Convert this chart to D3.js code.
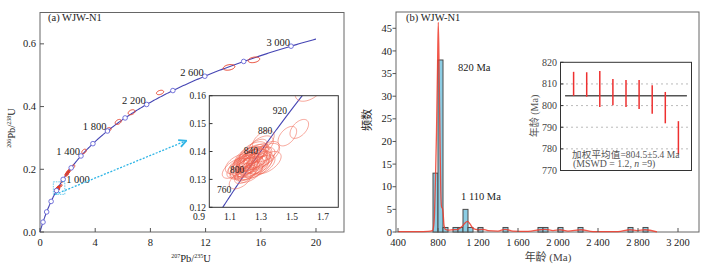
<!DOCTYPE html>
<html><head><meta charset="utf-8">
<script src="https://cdn.jsdelivr.net/npm/d3@7"></script>
<style>body{margin:0;background:#fff} text{font-family:"Liberation Serif","Noto Sans CJK SC",serif;fill:#222}</style>
</head><body><svg id="c" width="706" height="267"></svg>
<script>
// ---------------- DATA ----------------
const concordiaMarks = [200,400,600,800,1000,1200,1400,1600,1800,2000,2200,2400,2600,2800,3000];
const concordiaLabels = [1000,1400,1800,2200,2600,3000];
const insetLabels = [760,800,840,880,920];
const xTicksA = [0,4,8,12,16,20];
const yTicksA = [0,0.2,0.4,0.6];
const xTicksInset = [0.9,1.1,1.3,1.5,1.7];
const yTicksInset = [0.12,0.13,0.14,0.15,0.16];

// zircon analyses: 207Pb/235U, 206Pb/238U, 2-sigma errors, error correlation
const pb207u235 = [1.20,1.22,1.24,1.21,1.25,1.23,1.19,1.26,1.18,1.27,1.22,1.24,1.20,1.28,1.17,1.25,1.23,1.21,1.26,1.19,1.29,1.16,1.24,1.22,1.27,1.30,1.18,1.25,1.21,1.32,1.15,1.28,1.23,1.20,1.165,1.315,1.337,1.30,1.27,1.47,1.547,1.34,1.13,1.31,
  1.62,1.70,1.93,1.97,2.02,1.95,2.06,2.14,2.38,3.19,4.95,5.67,6.64,8.7,13.7,15.5];
const pb206u238 = [0.1350,0.1360,0.1365,0.1345,0.1370,0.1355,0.1340,0.1375,0.1335,0.1365,0.1372,0.1350,0.1362,0.1380,0.1350,0.1340,0.1378,0.1330,0.1355,0.1368,0.1360,0.1340,0.1385,0.1340,0.1392,0.1375,0.1358,0.1395,0.1380,0.1385,0.1355,0.1345,0.1325,0.1318,0.1298,0.1440,0.1400,0.1420,0.1410,0.1455,0.1481,0.1360,0.1340,0.1352,
  0.163,0.168,0.184,0.187,0.190,0.1855,0.192,0.197,0.208,0.257,0.326,0.351,0.382,0.445,0.525,0.549];
const err207 = [0.09,0.08,0.10,0.07,0.09,0.08,0.09,0.10,0.08,0.09,0.07,0.10,0.08,0.09,0.08,0.10,0.09,0.08,0.10,0.07,0.09,0.08,0.09,0.10,0.08,0.09,0.07,0.09,0.08,0.10,0.08,0.09,0.08,0.07,0.07,0.07,0.08,0.08,0.07,0.06,0.06,0.09,0.08,0.08,
  0.10,0.10,0.12,0.12,0.12,0.12,0.12,0.12,0.14,0.16,0.20,0.22,0.25,0.26,0.42,0.42];
const err206 = [0.0040,0.0035,0.0045,0.0035,0.0040,0.0038,0.0036,0.0042,0.0035,0.0040,0.0034,0.0044,0.0036,0.0040,0.0035,0.0042,0.0040,0.0036,0.0044,0.0034,0.0040,0.0036,0.0040,0.0042,0.0036,0.0040,0.0034,0.0040,0.0036,0.0044,0.0035,0.0040,0.0036,0.0033,0.0032,0.0035,0.0036,0.0036,0.0034,0.0035,0.0034,0.0040,0.0036,0.0036,
  0.005,0.005,0.006,0.006,0.006,0.006,0.006,0.006,0.006,0.007,0.007,0.008,0.008,0.007,0.009,0.009];
const rhoErr = [0.55,0.6,0.5,0.6,0.55,0.6,0.5,0.55,0.6,0.5,0.6,0.55,0.6,0.5,0.55,0.6,0.5,0.6,0.55,0.6,0.5,0.55,0.6,0.5,0.6,0.55,0.6,0.5,0.55,0.6,0.5,0.6,0.55,0.6,0.5,0.5,0.55,0.5,0.55,0.5,0.5,0.55,0.6,0.55,
  0.5,0.5,0.5,0.5,0.5,0.5,0.5,0.5,0.5,0.4,0.4,0.4,0.35,0.35,0.3,0.3];

// histogram
const binStart = [750,800,850,950,1000,1050,1100,1200,1450,1800,1850,2000,2200,2700,2850];
const binCount = [13,38,1,1,1,5,1,1,1,1,1,1,1,1,1];
const binWidth = 50;
const kdeAge = [400,600,700,745,755,765,775,785,795,803,811,820,828,836,845,852,860,872,900,950,1000,1040,1070,1095,1120,1150,1200,1250,1300,1400,1470,1550,1700,1820,1870,1950,2020,2100,2230,2350,2600,2720,2790,2870,2990];
const kdeVal = [0.1,0.1,0.15,0.3,1,4,12,22,36,46.3,36,20,9,5.5,5.2,4,1.5,0.6,0.4,0.5,0.6,1.2,2.0,2.35,1.8,0.8,0.5,0.6,0.3,0.2,0.6,0.2,0.15,0.5,0.6,0.3,0.5,0.2,0.5,0.1,0.1,0.5,0.3,0.5,0.05];
const xTicksH = [400,800,1200,1600,2000,2400,2800,3200];
const yTicksH = [0,5,10,15,20,25,30,35,40,45];
const peakLabels = ["820 Ma","1 110 Ma"];

// weighted mean inset
const wmIndex = [1,2,3,4,5,6,7,8,9];
const wmHigh = [815.6,815.4,816.0,812.3,811.8,811.8,809.4,806.3,792.8];
const wmLow  = [804.5,804.1,799.4,800.1,799.4,798.4,796.2,791.8,777.4];
const wmMean = 804.5;
const yTicksB = [770,780,790,800,810,820];
const gridB = [780,790,800,810];

// ---------------- DRAW ----------------
const svg = d3.select("#c");
const L238 = 1.55125e-10, L235 = 9.8485e-10;
const conc = t => [Math.exp(L235*t*1e6)-1, Math.exp(L238*t*1e6)-1];
const fmtAge = d => d >= 1000 ? d3.format(",")(d).replace(",", " ") : String(d);

// panel a scales
const xA = d3.scaleLinear([0, 22.03], [40, 344]);
const yA = d3.scaleLinear([0, 0.7], [232, 12.5]);
const xI = d3.scaleLinear([1.1, 1.7], [230, 323]);
const yI = d3.scaleLinear([0.12, 0.16], [207.3, 95.7]);

function ellPath(i, xs, ys) {
  const x = pb207u235[i], y = pb206u238[i], sx = err207[i], sy = err206[i], r = rhoErr[i];
  const pts = d3.range(0, 361, 8).map(a => {
    const t = a*Math.PI/180;
    return [xs(x + sx*Math.cos(t)), ys(y + sy*(r*Math.cos(t) + Math.sqrt(1-r*r)*Math.sin(t)))];
  });
  return d3.line()(pts) + "Z";
}

const gA = svg.append("g");
gA.append("rect").attr("x",40).attr("y",12.5).attr("width",304).attr("height",219.5)
  .attr("fill","none").attr("stroke","#666").attr("stroke-width",1);

// concordia curve
const tMax = Math.log(21)/L235/1e6;
const tSteps = d3.range(0, tMax, 10).concat([tMax]);
gA.append("path").attr("d", d3.line().x(t=>xA(conc(t)[0])).y(t=>yA(conc(t)[1]))(tSteps))
  .attr("fill","none").attr("stroke","#4646b4").attr("stroke-width",1.1);

// ellipses main
gA.append("g").selectAll("path").data(d3.range(pb207u235.length)).join("path")
  .attr("d", i => ellPath(i, xA, yA)).attr("fill","none").attr("stroke","#e8412c").attr("stroke-width",1);

// markers
gA.append("g").selectAll("circle").data(concordiaMarks).join("circle")
  .attr("cx", t=>xA(conc(t)[0])).attr("cy", t=>yA(conc(t)[1])).attr("r",2.3)
  .attr("fill","#fff").attr("stroke","#6464d6").attr("stroke-width",0.9);

// labels on concordia
gA.append("g").selectAll("text").data(concordiaLabels).join("text")
  .attr("x", t => xA(conc(t)[0]) + (t===1000 ? 3 : -1))
  .attr("y", t => yA(conc(t)[1]) + (t===1000 ? 4 : -0.5))
  .attr("text-anchor", t => t===1000 ? "start" : "end")
  .attr("font-size", 10.5).text(fmtAge);

// ticks panel a
xTicksA.forEach(v => {
  gA.append("line").attr("x1",xA(v)).attr("x2",xA(v)).attr("y1",232).attr("y2",228).attr("stroke","#555");
  gA.append("text").attr("x",xA(v)).attr("y",245.5).attr("text-anchor","middle").attr("font-size",10.5).text(v);
});
yTicksA.forEach(v => {
  gA.append("line").attr("x1",40).attr("x2",44).attr("y1",yA(v)).attr("y2",yA(v)).attr("stroke","#555");
  gA.append("text").attr("x",36).attr("y",yA(v)+3.6).attr("text-anchor","end").attr("font-size",10.5).text(d3.format(".1f")(v));
});
gA.append("text").attr("x",48).attr("y",21).attr("font-size",10.5).text("(a) WJW-N1");

// axis titles
const xt = gA.append("text").attr("x",191).attr("y",262).attr("text-anchor","middle").attr("font-size",10.5);
xt.append("tspan").attr("font-size",6).attr("dy",-4).text("207");
xt.append("tspan").attr("dy",4).text("Pb/");
xt.append("tspan").attr("font-size",6).attr("dy",-4).text("235");
xt.append("tspan").attr("dy",4).text("U");
const yt = gA.append("text").attr("transform","translate(15,128) rotate(-90)").attr("text-anchor","middle").attr("font-size",10.5);
yt.append("tspan").attr("font-size",6).attr("dy",-4).text("206");
yt.append("tspan").attr("dy",4).text("Pb/");
yt.append("tspan").attr("font-size",6).attr("dy",-4).text("238");
yt.append("tspan").attr("dy",4).text("U");

// cyan zoom box and arrow
const defs = svg.append("defs");
defs.append("marker").attr("id","arr").attr("viewBox","0 0 10 10").attr("refX",9).attr("refY",5)
  .attr("markerWidth",7).attr("markerHeight",7).attr("orient","auto")
  .append("path").attr("d","M1,1 L9,5 L1,9").attr("fill","none").attr("stroke","#2fb5e6").attr("stroke-width",2);
const bx0 = xA(xI.invert(209.3)), bx1 = xA(xI.invert(338.3)), by0 = yA(0.12), by1 = yA(0.16);
gA.append("rect").attr("x",bx0).attr("y",by1).attr("width",bx1-bx0).attr("height",by0-by1)
  .attr("fill","none").attr("stroke","#2fb5e6").attr("stroke-width",0.9).attr("stroke-opacity",0.8).attr("stroke-dasharray","1.5,1");
gA.append("line").attr("x1",bx0+2).attr("y1",by0).attr("x2",xA(10.6)).attr("y2",yA(0.291))
  .attr("stroke","#2fb5e6").attr("stroke-width",1.3).attr("stroke-dasharray","2,1.5").attr("marker-end","url(#arr)");

// inset a
const gI = svg.append("g");
defs.append("clipPath").attr("id","clipI").append("rect").attr("x",209.3).attr("y",95.7).attr("width",129).attr("height",111.6);
gI.append("rect").attr("x",209.3).attr("y",95.7).attr("width",129).attr("height",111.6).attr("fill","#fff");
const gIc = gI.append("g").attr("clip-path","url(#clipI)");
const tI = d3.range(700, 1000, 2);
gIc.append("path").attr("d", d3.line().x(t=>xI(conc(t)[0])).y(t=>yI(conc(t)[1]))(tI))
  .attr("fill","none").attr("stroke","#4646b4").attr("stroke-width",1.1);
gIc.append("g").selectAll("path").data(d3.range(pb207u235.length)).join("path")
  .attr("d", i => ellPath(i, xI, yI)).attr("fill","none").attr("stroke","#f06450")
  .attr("stroke-width",0.75).attr("stroke-opacity",0.75);
gI.append("g").selectAll("text").data(insetLabels).join("text")
  .attr("x", t => xI(conc(t)[0]) - 1).attr("y", t => yI(conc(t)[1]))
  .attr("text-anchor","end").attr("font-size",9.5).text(d => d);
gI.append("rect").attr("x",209.3).attr("y",95.7).attr("width",129).attr("height",111.6)
  .attr("fill","none").attr("stroke","#333").attr("stroke-width",1);
yTicksInset.forEach(v => {
  gI.append("line").attr("x1",209.3).attr("x2",212.5).attr("y1",yI(v)).attr("y2",yI(v)).attr("stroke","#333");
  gI.append("text").attr("x",206).attr("y",yI(v)+3.3).attr("text-anchor","end").attr("font-size",9.5).text(d3.format(".2f")(v));
});
xTicksInset.forEach(v => {
  gI.append("text").attr("x",xI(v)).attr("y",220.3).attr("text-anchor","middle").attr("font-size",9.5).text(d3.format(".1f")(v));
});

// ---------------- panel b ----------------
const xH = d3.scaleLinear([380, 3410], [396, 699]);
const yH = d3.scaleLinear([0, 48.6], [232, 12]);
const gH = svg.append("g");
gH.append("rect").attr("x",396).attr("y",12).attr("width",303).attr("height",220)
  .attr("fill","none").attr("stroke","#666").attr("stroke-width",1);
gH.append("g").selectAll("rect").data(binStart).join("rect")
  .attr("x", d => xH(d)).attr("width", d => xH(d+binWidth)-xH(d))
  .attr("y", (d,i) => yH(binCount[i])).attr("height", (d,i) => yH(0)-yH(binCount[i]))
  .attr("fill","#8ccde4").attr("stroke","#4a4a4a").attr("stroke-width",1);
gH.append("path").attr("d", d3.line().x((d,i)=>xH(kdeAge[i])).y(d=>yH(d)).curve(d3.curveMonotoneX)(kdeVal))
  .attr("fill","none").attr("stroke","#ee3a2a").attr("stroke-width",1.3).attr("stroke-opacity",0.85);
xTicksH.forEach(v => {
  gH.append("line").attr("x1",xH(v)).attr("x2",xH(v)).attr("y1",232).attr("y2",228).attr("stroke","#555");
  gH.append("text").attr("x",xH(v)).attr("y",245.5).attr("text-anchor","middle").attr("font-size",10.5).text(fmtAge(v));
});
yTicksH.forEach(v => {
  gH.append("line").attr("x1",392.5).attr("x2",396).attr("y1",yH(v)).attr("y2",yH(v)).attr("stroke","#555");
  gH.append("text").attr("x",392).attr("y",yH(v)+3.6).attr("text-anchor","end").attr("font-size",10.5).text(v);
});
gH.append("text").attr("x",406).attr("y",21).attr("font-size",10.5).text("(b) WJW-N1");
gH.append("text").attr("x",458).attr("y",70.5).attr("font-size",10.5).text(peakLabels[0]);
gH.append("text").attr("x",461).attr("y",200).attr("font-size",10.5).text(peakLabels[1]);
gH.append("text").attr("transform","translate(371,120) rotate(-90)").attr("text-anchor","middle").attr("font-size",11).text("频数");
gH.append("text").attr("x",548).attr("y",261).attr("text-anchor","middle").attr("font-size",11).style("fill","#444").text("年龄 (Ma)");

// inset b
const xB = d3.scaleLinear([0, 10], [560.5, 691.5]);
const yB = d3.scaleLinear([770, 820], [170.5, 62.3]);
const gB = svg.append("g");
gB.append("rect").attr("x",560.5).attr("y",62.3).attr("width",131).attr("height",108.2).attr("fill","#fff");
gridB.forEach(v => gB.append("line").attr("x1",561).attr("x2",691).attr("y1",yB(v)).attr("y2",yB(v))
  .attr("stroke","#aaa").attr("stroke-width",0.8).attr("stroke-dasharray","2,3"));
gB.append("line").attr("x1",xB(0.35)).attr("x2",xB(9.65)).attr("y1",yB(wmMean)).attr("y2",yB(wmMean))
  .attr("stroke","#555").attr("stroke-width",1.5);
gB.append("g").selectAll("line").data(wmIndex).join("line")
  .attr("x1", d=>xB(d)).attr("x2", d=>xB(d)).attr("y1",(d,i)=>yB(wmHigh[i])).attr("y2",(d,i)=>yB(wmLow[i]))
  .attr("stroke","#ee3030").attr("stroke-width",1.5);
gB.append("rect").attr("x",560.5).attr("y",62.3).attr("width",131).attr("height",108.2)
  .attr("fill","none").attr("stroke","#333").attr("stroke-width",1);
yTicksB.forEach(v => {
  gB.append("line").attr("x1",560.5).attr("x2",563.5).attr("y1",yB(v)).attr("y2",yB(v)).attr("stroke","#333");
  gB.append("text").attr("x",557).attr("y",yB(v)+3.5).attr("text-anchor","end").attr("font-size",10).style("fill","#444").text(v);
});
gB.append("text").attr("transform","translate(538,116) rotate(-90)").attr("text-anchor","middle").attr("font-size",10).style("fill","#555").text("年龄 (Ma)");
const wt = gB.append("text").attr("x",572).attr("y",157.5).attr("font-size",9.5).style("fill","#555");
wt.append("tspan").attr("letter-spacing",0.2).text("加权平均值");
wt.append("tspan").text("=804.5±5.4 Ma");
const ms = gB.append("text").attr("x",573).attr("y",167).attr("font-size",9.8).style("fill","#555");
ms.append("tspan").text("(MSWD = 1.2, ");
ms.append("tspan").attr("font-style","italic").text("n");
ms.append("tspan").text(" =9)");
</script></body></html>
